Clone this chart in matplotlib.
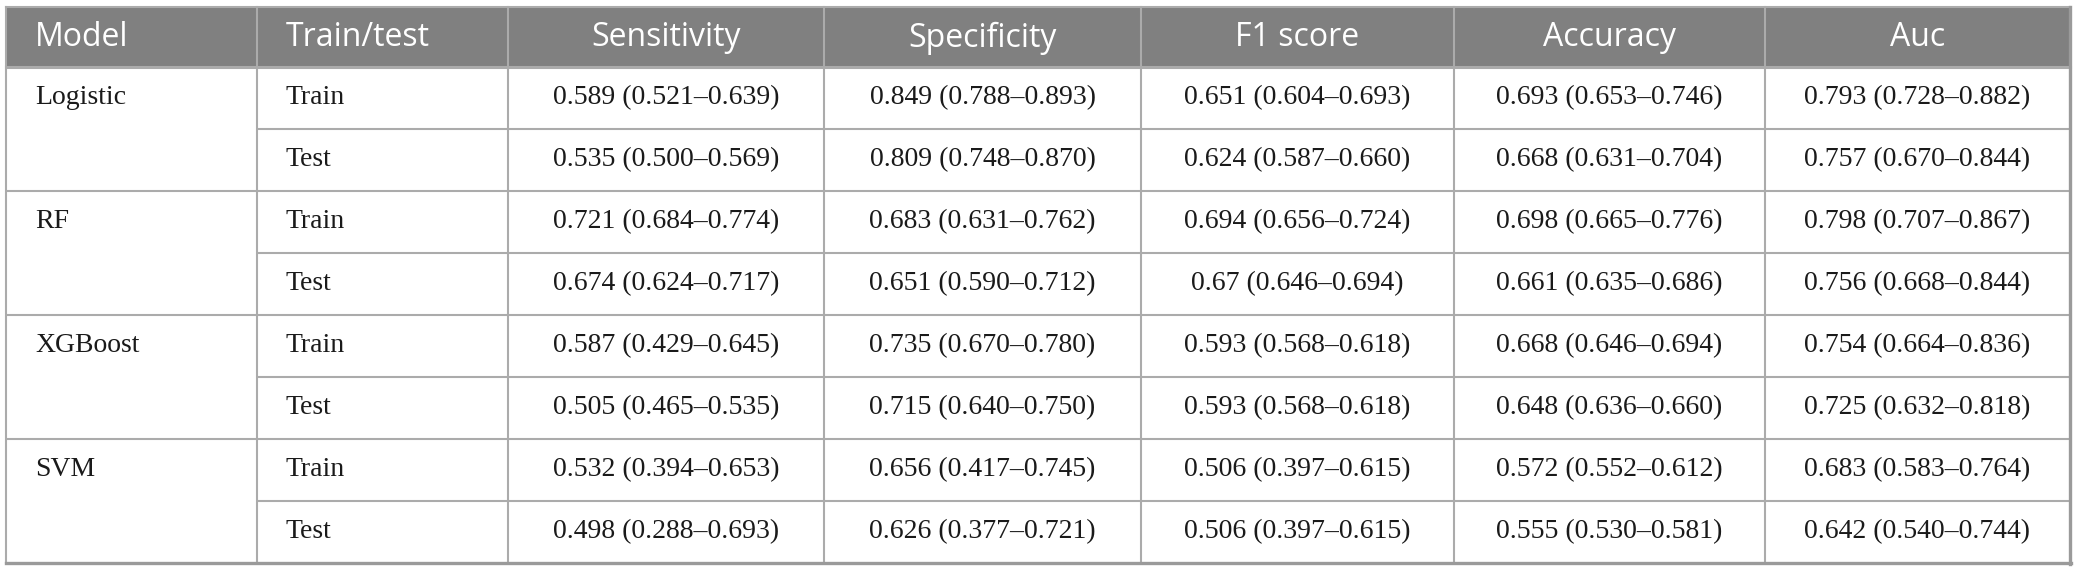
import matplotlib.pyplot as plt

# table content
headers = ["Model", "Train/test", "Sensitivity", "Specificity", "F1 score", "Accuracy", "Auc"]
models = ["Logistic", "RF", "XGBoost", "SVM"]
splits = ["Train", "Test"]

sensitivity = ["0.589 (0.521–0.639)", "0.535 (0.500–0.569)",
               "0.721 (0.684–0.774)", "0.674 (0.624–0.717)",
               "0.587 (0.429–0.645)", "0.505 (0.465–0.535)",
               "0.532 (0.394–0.653)", "0.498 (0.288–0.693)"]
specificity = ["0.849 (0.788–0.893)", "0.809 (0.748–0.870)",
               "0.683 (0.631–0.762)", "0.651 (0.590–0.712)",
               "0.735 (0.670–0.780)", "0.715 (0.640–0.750)",
               "0.656 (0.417–0.745)", "0.626 (0.377–0.721)"]
f1_score = ["0.651 (0.604–0.693)", "0.624 (0.587–0.660)",
            "0.694 (0.656–0.724)", "0.67 (0.646–0.694)",
            "0.593 (0.568–0.618)", "0.593 (0.568–0.618)",
            "0.506 (0.397–0.615)", "0.506 (0.397–0.615)"]
accuracy = ["0.693 (0.653–0.746)", "0.668 (0.631–0.704)",
            "0.698 (0.665–0.776)", "0.661 (0.635–0.686)",
            "0.668 (0.646–0.694)", "0.648 (0.636–0.660)",
            "0.572 (0.552–0.612)", "0.555 (0.530–0.581)"]
auc = ["0.793 (0.728–0.882)", "0.757 (0.670–0.844)",
       "0.798 (0.707–0.867)", "0.756 (0.668–0.844)",
       "0.754 (0.664–0.836)", "0.725 (0.632–0.818)",
       "0.683 (0.583–0.764)", "0.642 (0.540–0.744)"]
metrics = [sensitivity, specificity, f1_score, accuracy, auc]

# layout in pixels
W, H = 2078, 572
col_x = [6, 257, 508, 824, 1141, 1454, 1765, 2070]
top, head_bot, bottom = 7, 67, 563
n_rows = len(models) * len(splits)
row_h = (bottom - head_bot) / n_rows
line_c = "#ababab"
lw = 1.5

fig = plt.figure(figsize=(W / 100, H / 100), dpi=100)
ax = fig.add_axes([0, 0, 1, 1])
ax.set_xlim(0, W)
ax.set_ylim(H, 0)
ax.axis("off")

# header band
ax.fill_between([col_x[0], col_x[-1]], top, head_bot, color="#808080", lw=0)
for i, h in enumerate(headers):
    yc = (top + head_bot) / 2 + 1
    if i < 2:
        ax.text(col_x[i] + 29, yc, h, color="white", fontsize=23,
                family="Open Sans", ha="left", va="center")
    else:
        ax.text((col_x[i] + col_x[i + 1]) / 2, yc, h, color="white",
                fontsize=23, family="Open Sans", ha="center", va="center")

# body text
body_kw = dict(fontsize=20, family="Liberation Serif", color="#1a1a1a", va="center")
for r in range(n_rows):
    yc = head_bot + (r + 0.5) * row_h
    if r % 2 == 0:
        ax.text(col_x[0] + 29, yc, models[r // 2], ha="left", **body_kw)
    ax.text(col_x[1] + 29, yc, splits[r % 2], ha="left", **body_kw)
    for j, vals in enumerate(metrics):
        ax.text((col_x[j + 2] + col_x[j + 3]) / 2, yc, vals[r], ha="center", **body_kw)

# grid lines
for r in range(1, n_rows):
    y = head_bot + r * row_h
    x0 = col_x[0] if r % 2 == 0 else col_x[1]
    ax.plot([x0, col_x[-1]], [y, y], color=line_c, lw=lw, solid_capstyle="butt")
ax.plot([col_x[0], col_x[-1]], [head_bot, head_bot], color=line_c, lw=2.2)
for x in col_x[1:-1]:
    ax.plot([x, x], [top, bottom], color=line_c, lw=lw)
# outer frame with a slightly heavier bottom/right edge
ax.plot([col_x[0], col_x[-1]], [top, top], color=line_c, lw=lw)
ax.plot([col_x[0], col_x[0]], [top, bottom], color=line_c, lw=lw)
ax.plot([col_x[-1], col_x[-1]], [top, bottom + 1], color="#9a9a9a", lw=2.4)
ax.plot([col_x[0], col_x[-1] + 1], [bottom, bottom], color="#9a9a9a", lw=2.4)

fig.savefig("out.png", dpi=100, facecolor="white")
